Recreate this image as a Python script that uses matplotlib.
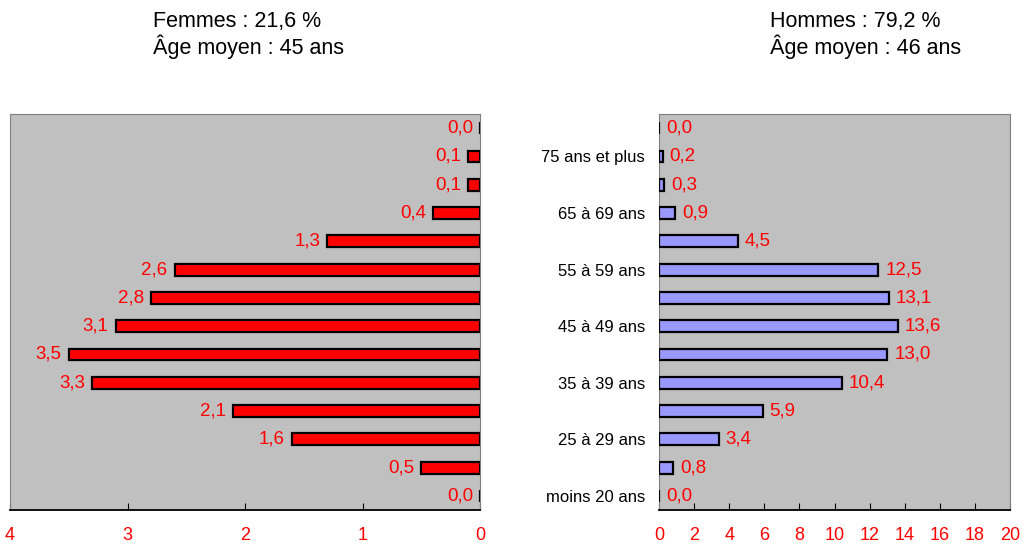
"""Pyramide des âges : femmes / hommes."""

import matplotlib

matplotlib.use("Agg")
import matplotlib.pyplot as plt

plt.rcParams["font.family"] = ["Liberation Sans", "DejaVu Sans"]

# tranches d'âge, de bas en haut
AGE_GROUPS = [
    "moins 20 ans", "20 à 24 ans", "25 à 29 ans", "30 à 34 ans", "35 à 39 ans",
    "40 à 44 ans", "45 à 49 ans", "50 à 54 ans", "55 à 59 ans", "60 à 64 ans",
    "65 à 69 ans", "70 à 74 ans", "75 ans et plus", "",
]
FEMMES = [0.0, 0.5, 1.6, 2.1, 3.3, 3.5, 3.1, 2.8, 2.6, 1.3, 0.4, 0.1, 0.1, 0.0]
HOMMES = [0.0, 0.8, 3.4, 5.9, 10.4, 13.0, 13.6, 13.1, 12.5, 4.5, 0.9, 0.3, 0.2, 0.0]
FEMMES_TICKS = [0, 1, 2, 3, 4]
HOMMES_TICKS = list(range(0, 21, 2))

BG = "#C0C0C0"
RED = "#FF0000"


def _fmt(v):
    return f"{v:.1f}".replace(".", ",")


def _style(ax):
    ax.set_facecolor(BG)
    for side in ("left", "top", "right"):
        ax.spines[side].set_color("#808080")
    ax.spines["bottom"].set_color("black")
    ax.spines["bottom"].set_linewidth(1.3)
    ax.tick_params(axis="x", direction="in", length=5, color="black",
                   labelcolor=RED, labelsize=13, pad=12)
    ax.tick_params(axis="y", length=0)
    ax.set_ylim(-0.5, len(AGE_GROUPS) - 0.5)


fig = plt.figure(figsize=(10.23, 5.45), dpi=100)
ax_f = fig.add_axes([0.0098, 0.0642, 0.4594, 0.7266])
ax_h = fig.add_axes([0.6442, 0.0642, 0.3431, 0.7266])

y = list(range(len(AGE_GROUPS)))

# femmes
ax_f.barh(y, FEMMES, height=0.42, color=RED, edgecolor="black", linewidth=1.6, zorder=3)
_style(ax_f)
ax_f.set_xlim(4, 0)
ax_f.set_xticks(FEMMES_TICKS)
ax_f.set_yticks([])
for yi, v in zip(y, FEMMES):
    ax_f.text(v + 0.06, yi, _fmt(v), ha="right", va="center", color=RED, fontsize=13.5)

# hommes
ax_h.barh(y, HOMMES, height=0.42, color="#9999FF", edgecolor="black", linewidth=1.6, zorder=3)
_style(ax_h)
ax_h.set_xlim(0, 20)
ax_h.set_xticks(HOMMES_TICKS)
ax_h.set_yticks(y[::2])
ax_h.set_yticklabels(AGE_GROUPS[::2], fontsize=12)
ax_h.tick_params(axis="y", pad=10)
for yi, v in zip(y, HOMMES):
    ax_h.text(v + 0.4, yi, _fmt(v), ha="left", va="center", color=RED, fontsize=13.5)

fig.text(153 / 1023, 1 - 21 / 545, "Femmes : 21,6 %", ha="left", va="center", fontsize=15.5)
fig.text(153 / 1023, 1 - 47 / 545, "Âge moyen : 45 ans", ha="left", va="center", fontsize=15.5)
fig.text(770 / 1023, 1 - 21 / 545, "Hommes : 79,2 %", ha="left", va="center", fontsize=15.5)
fig.text(770 / 1023, 1 - 47 / 545, "Âge moyen : 46 ans", ha="left", va="center", fontsize=15.5)

fig.savefig("out.png", dpi=100, facecolor="white")
